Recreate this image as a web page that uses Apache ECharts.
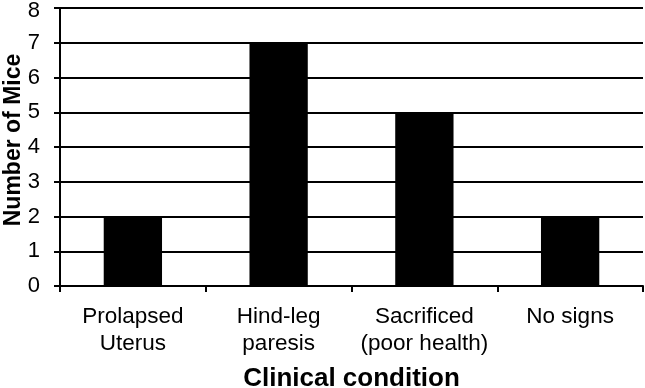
<!DOCTYPE html>
<html>
<head>
<meta charset="utf-8">
<script src="https://cdn.jsdelivr.net/npm/echarts@6/dist/echarts.min.js"></script>
<style>
  html, body { margin: 0; padding: 0; background: #fff; }
  #chart { width: 645px; height: 388px; }
</style>
</head>
<body>
<div id="chart"></div>
<script>
// categories and counts
const categories = ['Prolapsed\nUterus', 'Hind-leg\nparesis', 'Sacrificed\n(poor health)', 'No signs'];
const mice = [2, 7, 5, 2];

const chart = echarts.init(document.getElementById('chart'), null, { renderer: 'canvas' });
const font = 'Arial, "Liberation Sans", sans-serif';

chart.setOption({
  animation: false,
  grid: { left: 60, right: 2, top: 8, bottom: 102, containLabel: false, outerBoundsMode: 'none' },
  xAxis: {
    type: 'category',
    data: categories,
    name: 'Clinical condition',
    nameLocation: 'middle',
    nameGap: 80,
    nameMoveOverlap: false,
    nameTextStyle: { fontFamily: font, fontSize: 26, fontWeight: 'bold', color: '#000' },
    axisLine: { lineStyle: { color: '#000', width: 2 } },
    axisTick: { show: true, length: 6, lineStyle: { color: '#000', width: 2 } },
    axisLabel: { interval: 0, fontFamily: font, fontSize: 22.5, color: '#000', lineHeight: 27, margin: 17 }
  },
  yAxis: {
    type: 'value',
    min: 0,
    max: 8,
    interval: 1,
    name: 'Number of Mice',
    nameLocation: 'middle',
    nameGap: 35,
    nameMoveOverlap: false,
    nameTextStyle: { fontFamily: font, fontSize: 23, fontWeight: 'bold', color: '#000', padding: [0, 0, 0, 14] },
    axisLine: { show: true, lineStyle: { color: '#000', width: 2 } },
    axisTick: { show: true, length: 6, lineStyle: { color: '#000', width: 2 } },
    axisLabel: {
      fontFamily: font, fontSize: 22, color: '#000', margin: 20,
      // the top label sits a little low in the original so it is not cut off
      formatter: v => (v === 8 ? '{top|8}' : String(v)),
      rich: { top: { fontFamily: font, fontSize: 22, color: '#000', padding: [5, 0, 0, 0] } }
    },
    splitLine: { show: true, lineStyle: { color: '#000', width: 2 } }
  },
  series: [{
    type: 'bar',
    data: mice,
    barWidth: '40%',
    itemStyle: { color: '#000' }
  }]
});
</script>
</body>
</html>
